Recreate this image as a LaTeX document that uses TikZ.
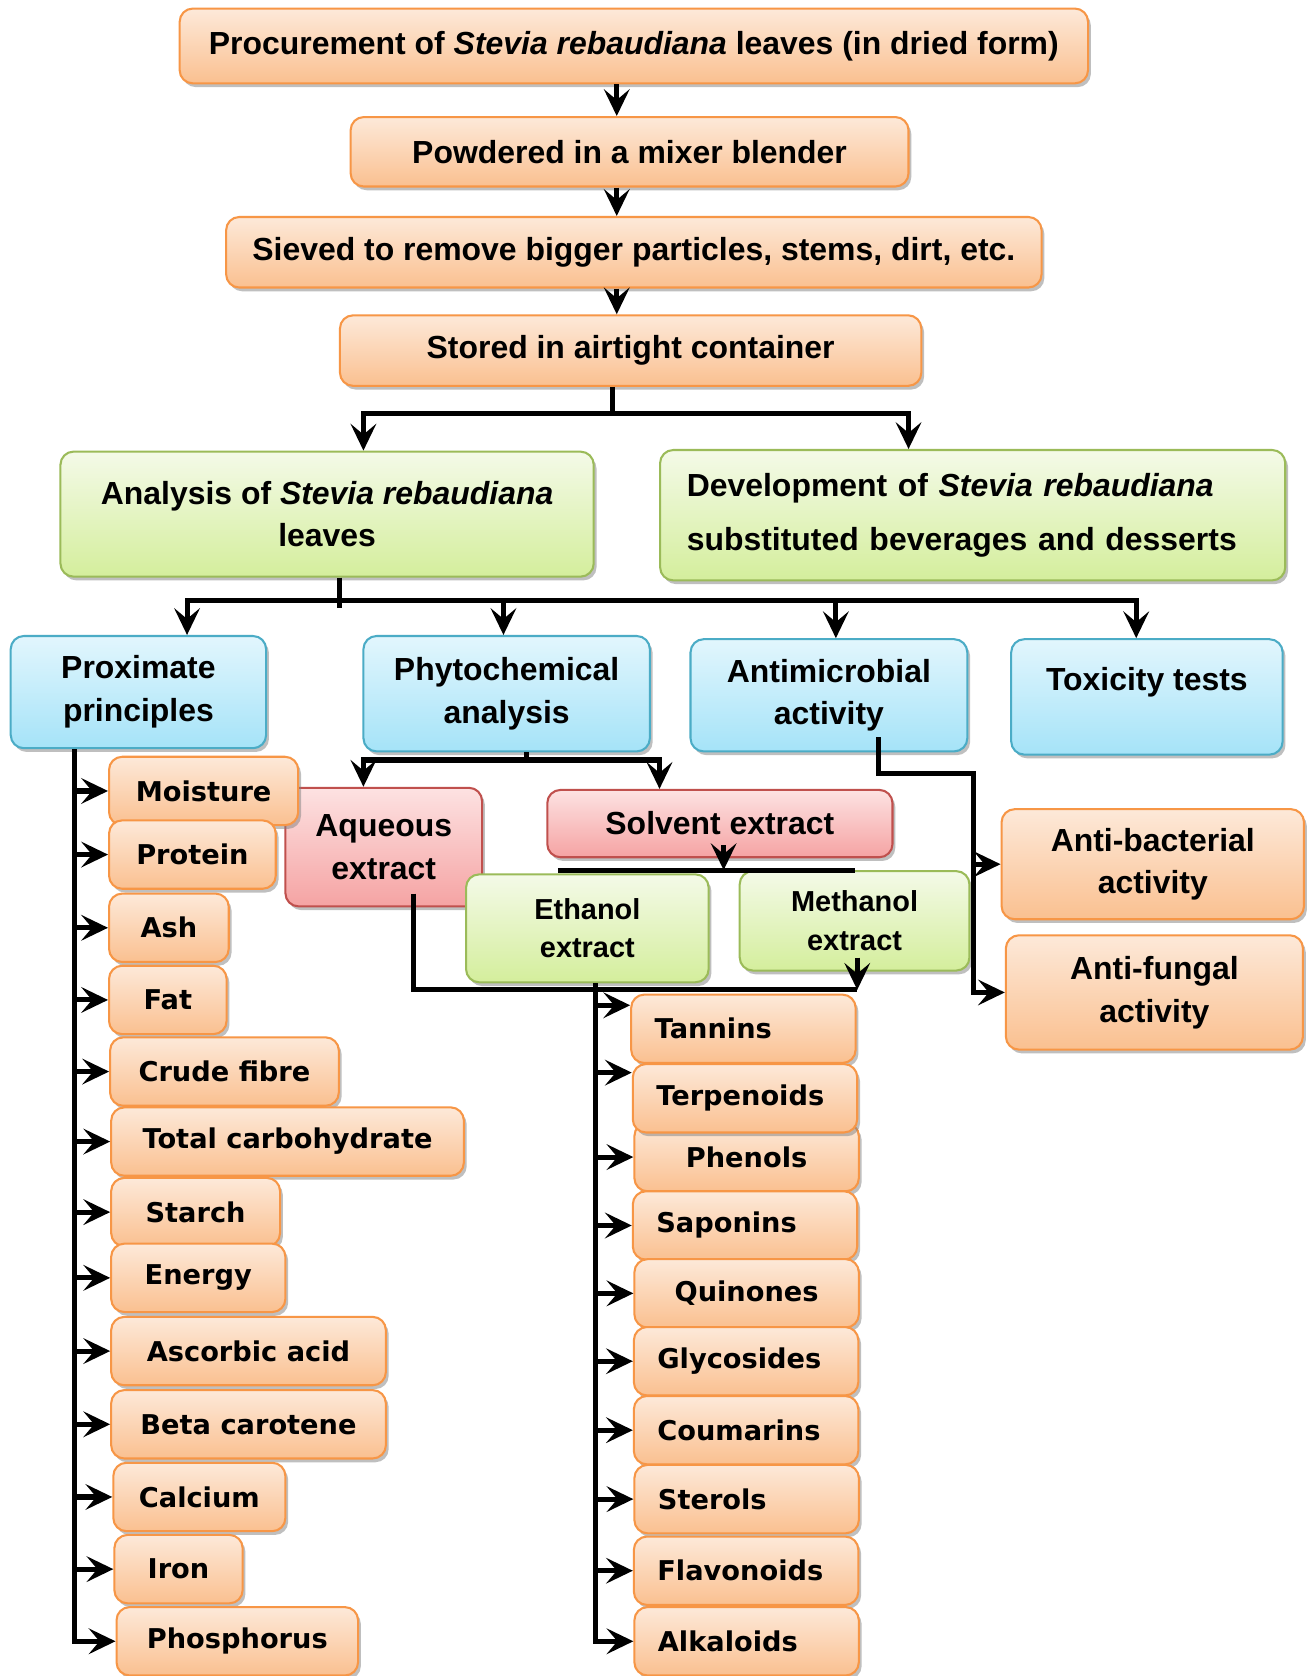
\documentclass[tikz,border=0pt]{standalone}
\usepackage{fontspec}
\setmainfont{Liberation Sans}
\newfontfamily\listfont{DejaVu Sans}
\usetikzlibrary{arrows.meta,shadows,calc}

\definecolor{obord}{HTML}{F79646}
\definecolor{otop}{HTML}{FDE9D9}
\definecolor{obot}{HTML}{FAC090}
\definecolor{gbord}{HTML}{9BBB59}
\definecolor{gtop}{HTML}{F4FAE8}
\definecolor{gbot}{HTML}{D4EE9C}
\definecolor{bbord}{HTML}{4BACC6}
\definecolor{btop}{HTML}{E2F6FD}
\definecolor{bbot}{HTML}{A5E3F8}
\definecolor{rbord}{HTML}{C0504D}
\definecolor{rtop}{HTML}{FDE2E2}
\definecolor{rbot}{HTML}{F5A3A3}

\begin{document}
\begin{tikzpicture}[x=0.02cm,y=-0.02cm]
    \tikzstyle{box}=[rectangle,rounded corners=7pt,line width=1.1pt,inner
    sep=0pt,align=center,font=\bfseries\fontsize{17}{22.8}\selectfont,
    drop shadow={shadow xshift=1.5pt,shadow yshift=-2pt,fill=black!50,opacity=.5}]
    \tikzstyle{obox}=[box,draw=obord,top color=otop,bottom color=obot]
    \tikzstyle{gbox}=[box,draw=gbord,top color=gtop,bottom color=gbot]
    \tikzstyle{bbox}=[box,draw=bbord,top color=btop,bottom color=bbot]
    \tikzstyle{rbox}=[box,draw=rbord,top color=rtop,bottom color=rbot]
    \tikzstyle{pitem}=[obox,minimum height=1.28cm,
    font=\listfont\bfseries\fontsize{14.5}{17}\selectfont]
    \tikzstyle{citem}=[pitem,align=left,text width=3.32cm,inner xsep=0.44cm]
    \tikzstyle{link}=[line width=2.7pt]
    \tikzstyle{arr}=[link,-{Stealth[length=0.5cm,width=0.48cm,inset=0.2cm]}]

    \fill[white] (0,0) rectangle (1229,1568);
    \useasboundingbox (0,0) rectangle (1229,1568);

    % preparation of the leaves
    \node[obox,minimum width=17cm,minimum height=1.4cm](proc) at (593,43){Procurement of \textit{Stevia rebaudiana} leaves (in dried form)};
    \node[obox,minimum width=10.44cm,minimum height=1.3cm](powd) at (589,142){Powdered in a mixer blender};
    \node[obox,minimum width=15.26cm,minimum height=1.32cm](siev) at (593,236){Sieved to remove bigger particles, stems, dirt, etc.};
    \node[obox,minimum width=10.88cm,minimum height=1.32cm](stor) at (590,328){Stored in airtight container};

    \node[gbox,minimum width=9.98cm,minimum height=2.34cm](anal) at (306,481){Analysis of \textit{Stevia rebaudiana}\\leaves};
    \node[gbox,align=left,text width=10.7cm,inner xsep=0.5cm,minimum height=2.44cm,
      font=\bfseries\fontsize{17}{29}\selectfont](devl) at (910,482){Development of \textit{Stevia rebaudiana}\\substituted beverages and desserts};

    % analyses
    \node[bbox,minimum width=4.78cm,minimum height=2.1cm](prox) at (129.5,647.5){Proximate\\principles};
    \node[bbox,minimum width=5.36cm,minimum height=2.16cm](phyt) at (474,649){Phytochemical\\analysis};
    \node[bbox,minimum width=5.18cm,minimum height=2.1cm](anti) at (775.5,650.5){Antimicrobial\\activity};
    \node[bbox,minimum width=5.08cm,minimum height=2.16cm](toxi) at (1073,652){Toxicity tests\\[-4pt]\mbox{}};

    \node[rbox,minimum width=3.68cm,minimum height=2.22cm](aque) at (359,792.5){Aqueous\\extract};
    \node[rbox,minimum width=6.46cm,minimum height=1.26cm](solv) at (673.5,770.5){Solvent extract};
    \node[gbox,minimum width=4.54cm,minimum height=2.02cm,
      font=\bfseries\fontsize{15.4}{20.5}\selectfont](etha) at (549.5,868.5){Ethanol\\extract};
    \node[gbox,minimum width=4.3cm,minimum height=1.86cm,
      font=\bfseries\fontsize{15.4}{20.5}\selectfont](meth) at (799.5,861.5){Methanol\\extract};

    \node[obox,minimum width=5.66cm,minimum height=2.06cm](abac) at (1078.5,808.5){Anti-bacterial\\activity};
    \node[obox,minimum width=5.56cm,minimum height=2.14cm](afun) at (1080,928.5){Anti-fungal\\activity};

    % proximate principles
    \node[pitem,minimum width=3.54cm](moist) at (190.5,740){Moisture};
    \node[pitem,minimum width=3.12cm](prot) at (180,799.5){Protein};
    \node[pitem,minimum width=2.24cm](ash) at (158,868){Ash};
    \node[pitem,minimum width=2.2cm](fat) at (157,935.5){Fat};
    \node[pitem,minimum width=4.28cm](crud) at (210,1002.5){Crude fibre};
    \node[pitem,minimum width=6.6cm](carb) at (269,1068){Total carbohydrate};
    \node[pitem,minimum width=3.16cm](star) at (183,1134){Starch};
    \node[pitem,minimum width=3.26cm](ener) at (185.5,1195.5){Energy};
    \node[pitem,minimum width=5.14cm](ascb) at (232.5,1264){Ascorbic acid};
    \node[pitem,minimum width=5.14cm](beta) at (232.5,1332.5){Beta carotene};
    \node[pitem,minimum width=3.22cm](calci) at (186.5,1400.5){Calcium};
    \node[pitem,minimum width=2.4cm](iron) at (167,1468){Iron};
    \node[pitem,minimum width=4.52cm](phos) at (222,1535.5){Phosphorus};

    % phytochemicals
    \node[citem](tann) at (695.5,962.5){Tannins};
    \node[citem,align=center](phen) at (698.5,1082.5){Phenols};
    \node[citem](terp) at (697,1027.5){Terpenoids};
    \node[citem](sapo) at (697,1146.5){Saponins};
    \node[citem,align=center](quin) at (698.5,1210){Quinones};
    \node[citem](glyc) at (698,1273.5){Glycosides};
    \node[citem](coum) at (698,1338){Coumarins};
    \node[citem](ster) at (698.5,1402.5){Sterols};
    \node[citem](flav) at (698,1469.5){Flavonoids};
    \node[citem](alka) at (698.5,1535.5){Alkaloids};

    \coordinate (split1) at (573,387);
    \coordinate (split2) at (318,562);
    \coordinate (split3) at (493,711);
    \coordinate (split4) at (677,814);
    \coordinate (join1) at (387,926);
    \coordinate (join2) at (802,926);
    \coordinate (corner1) at (822,724);
    \coordinate (corner2) at (911,724);
    \coordinate (ptrunk) at (70,700);
    \coordinate (ctrunk) at (557,920);

    \draw[arr] (577,0 |- proc.south) -- (577,0 |- powd.north);
    \draw[arr] (577,0 |- powd.south) -- (577,0 |- siev.north);
    \draw[arr] (577,0 |- siev.south) -- (577,0 |- stor.north);

    \draw[link] (stor.south -| split1) -- (split1);
    \draw[arr] (split1) -| (340,0 |- anal.north);
    \draw[arr] (split1) -| (850,0 |- devl.north);

    \draw[link] (anal.south -| split2) -- ([yshift=-0.14cm]split2);
    \draw[arr] (split2) -| (175,0 |- prox.north);
    \draw[arr] (split2) -| (471,0 |- phyt.north);
    \draw[arr] (split2) -| (782,0 |- anti.north);
    \draw[arr] (split2) -| (1063,0 |- toxi.north);

    \draw[link] (phyt.south -| split3) -- (split3);
    \draw[arr] (split3) -| (340,0 |- aque.north);
    \draw[arr] (split3) -| (617,0 |- solv.north);

    \draw[arr] ($(solv.south -| split4)+(0,-12)$) -- (split4);
    \draw[link] ($(split4)+(-155,0)$) -- (split4 -| meth.center);

    \draw[link] ($(aque.south -| join1)+(0,-13)$) -- (join1) -- (join2);
    \draw[arr] ($(meth.south -| join2)+(0,-13)$) -- (join2);

    \draw[arr] ($(anti.south -| corner1)+(0,-14)$) -- (corner1) -- (corner2)
      -- (corner2 |- afun.west) -- (afun.west);
    \draw[arr] (corner2 |- abac.west) -- (abac.west);

    \draw[arr] (prox.south -| ptrunk) -- (ptrunk |- phos.west) -- (phos.west);
    \draw[arr] (ptrunk |- moist.west) -- (moist.west);
    \draw[arr] (ptrunk |- prot.west) -- (prot.west);
    \draw[arr] (ptrunk |- ash.west) -- (ash.west);
    \draw[arr] (ptrunk |- fat.west) -- (fat.west);
    \draw[arr] (ptrunk |- crud.west) -- (crud.west);
    \draw[arr] (ptrunk |- carb.west) -- (carb.west);
    \draw[arr] (ptrunk |- star.west) -- (star.west);
    \draw[arr] (ptrunk |- ener.west) -- (ener.west);
    \draw[arr] (ptrunk |- ascb.west) -- (ascb.west);
    \draw[arr] (ptrunk |- beta.west) -- (beta.west);
    \draw[arr] (ptrunk |- calci.west) -- (calci.west);
    \draw[arr] (ptrunk |- iron.west) -- (iron.west);

    \draw[arr] (etha.south -| ctrunk) -- (ctrunk |- alka.west) -- (alka.west);
    \draw[arr] ($(ctrunk |- tann.west)+(0,-22)$) -- ($(tann.west)+(0,-22)$);
    \draw[arr] ($(ctrunk |- terp.west)+(0,-24)$) -- ($(terp.west)+(0,-24)$);
    \draw[arr] (ctrunk |- phen.west) -- (phen.west);
    \draw[arr] (ctrunk |- sapo.west) -- (sapo.west);
    \draw[arr] (ctrunk |- quin.west) -- (quin.west);
    \draw[arr] (ctrunk |- glyc.west) -- (glyc.west);
    \draw[arr] (ctrunk |- coum.west) -- (coum.west);
    \draw[arr] (ctrunk |- ster.west) -- (ster.west);
    \draw[arr] (ctrunk |- flav.west) -- (flav.west);
  \end{tikzpicture}
\end{document}
